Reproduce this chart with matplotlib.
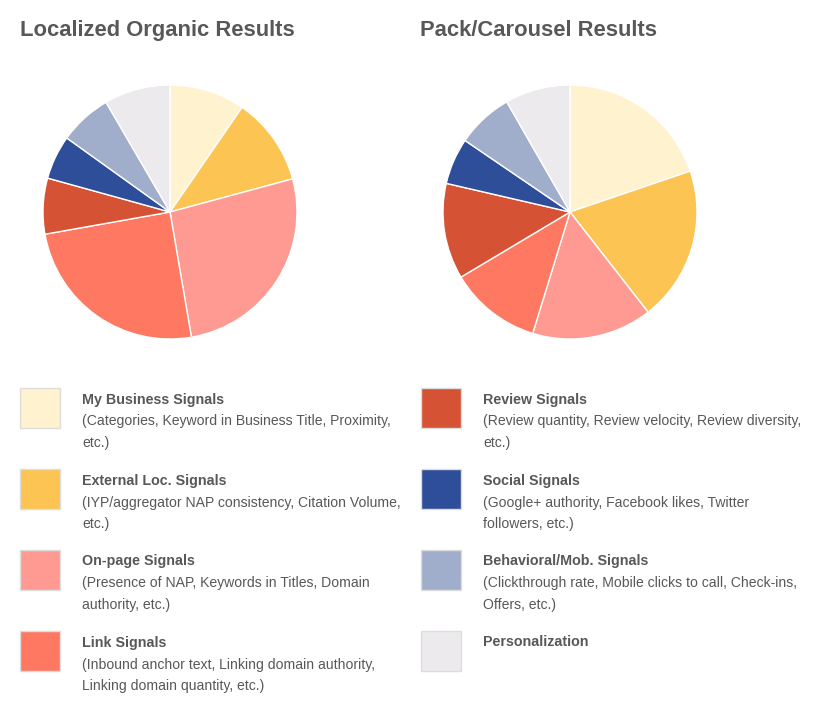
import matplotlib
matplotlib.use("Agg")
import matplotlib.pyplot as plt
from matplotlib.patches import Rectangle

plt.rcParams['font.family'] = ['Liberation Sans', 'DejaVu Sans']

categories = ["My Business Signals", "External Loc. Signals", "On-page Signals",
              "Link Signals", "Review Signals", "Social Signals",
              "Behavioral/Mob. Signals", "Personalization"]
descriptions = [
    ["(Categories, Keyword in Business Title, Proximity,", "etc.)"],
    ["(IYP/aggregator NAP consistency, Citation Volume,", "etc.)"],
    ["(Presence of NAP, Keywords in Titles, Domain", "authority, etc.)"],
    ["(Inbound anchor text, Linking domain authority,", "Linking domain quantity, etc.)"],
    ["(Review quantity, Review velocity, Review diversity,", "etc.)"],
    ["(Google+ authority, Facebook likes, Twitter", "followers, etc.)"],
    ["(Clickthrough rate, Mobile clicks to call, Check-ins,", "Offers, etc.)"],
    [],
]
organic_values = [9.6, 11.2, 26.5, 24.9, 7.1, 5.6, 6.7, 8.4]
pack_values = [19.8, 19.7, 15.3, 11.7, 12.2, 5.9, 7.2, 8.3]
titles = ["Localized Organic Results", "Pack/Carousel Results"]
colors = ["#FFF2CE", "#FCC453", "#FF9A93", "#FF7962",
          "#D65235", "#2F4E9A", "#A0AECC", "#ECEAEC"]

W, H = 819, 725
fig = plt.figure(figsize=(W / 100, H / 100), dpi=100)
fig.patch.set_facecolor("white")
TXT = "#585858"


def fx(x):
    return x / W


def fy(y):
    return 1 - y / H


# Pies
R = 127
for cx, vals in [(170, organic_values), (570, pack_values)]:
    ax = fig.add_axes([fx(cx - R), fy(212 + R), 2 * R / W, 2 * R / H])
    ax.pie(vals, colors=colors, startangle=90, counterclock=False,
           wedgeprops=dict(edgecolor="white", linewidth=1.0))
    ax.set_xlim(-1, 1)
    ax.set_ylim(-1, 1)
    ax.set_aspect("auto")
    ax.axis("off")

# Titles
for x, t in zip([20, 420], titles):
    fig.text(fx(x), fy(36), t, fontsize=15.8, fontweight="bold", color=TXT,
             ha="left", va="baseline")

# Legend
for i, (cat, desc) in enumerate(zip(categories, descriptions)):
    col = i // 4
    row = i % 4
    sx = 20 + col * 401
    sy = 388 + row * 81
    fig.patches.append(Rectangle((fx(sx), fy(sy + 40)), 40 / W, 40 / H,
                                 transform=fig.transFigure, facecolor=colors[i],
                                 edgecolor="#DDDDDD", linewidth=1))
    tx = sx + 62
    fig.text(fx(tx), fy(sy + 15.5), cat, fontsize=10.3, fontweight="bold",
             color=TXT, ha="left", va="baseline")
    for j, line in enumerate(desc):
        fig.text(fx(tx), fy(sy + 37.5 + 21.7 * j), line, fontsize=10.05,
                 color=TXT, ha="left", va="baseline")

fig.savefig("out.png", dpi=100, facecolor="white")
